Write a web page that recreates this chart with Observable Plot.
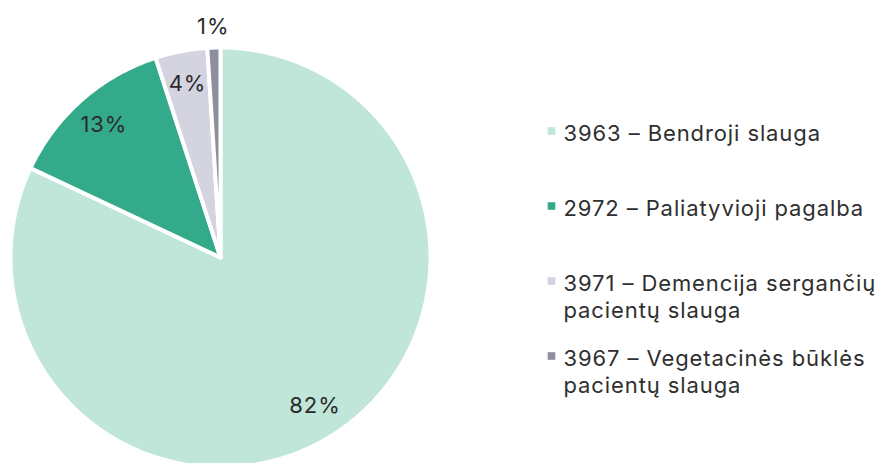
<!DOCTYPE html>
<html><head><meta charset="utf-8">
<script src="https://cdn.jsdelivr.net/npm/d3@7"></script>
<script src="https://cdn.jsdelivr.net/npm/@observablehq/plot@0.6"></script>
<style>
body{margin:0;background:#fff;}
#chart svg{font-family:Inter,"Noto Sans",sans-serif;overflow:visible;}
#chart svg text{letter-spacing:0.9px;}
</style>
</head><body><div id="chart"></div>
<script>
// ---- data ----
const codes = ["3963", "2972", "3971", "3967"];
const names = ["Bendroji slauga", "Paliatyvioji pagalba", "Demencija sergančių\npacientų slauga", "Vegetacinės būklės\npacientų slauga"];
const shares = [82, 13, 4, 1];
const colors = ["#bfe6d9", "#33ab8b", "#d3d4df", "#8d909c"];

// ---- geometry from data ----
const total = d3.sum(shares);
let acc = 0;
const slices = shares.map((v, i) => {
  const a0 = acc / total * 2 * Math.PI; acc += v;
  const a1 = acc / total * 2 * Math.PI;
  return {key: codes[i], v, a0, a1};
});
const pts = [];
for (const s of slices) {
  pts.push({key: s.key, x: 0, y: 0});
  const n = Math.max(4, Math.ceil((s.a1 - s.a0) / 0.01));
  for (let k = 0; k <= n; k++) {
    const a = s.a0 + (s.a1 - s.a0) * k / n;
    pts.push({key: s.key, x: Math.sin(a), y: Math.cos(a)});
  }
}
const labels = slices.map(s => {
  const m = (s.a0 + s.a1) / 2, r = s.v < 2 ? 1.1 : 0.84;
  return {x: r * Math.sin(m), y: r * Math.cos(m), text: s.v + "%"};
});

const legendX = 563, legendFirst = 137, legendStep = 75, fs = 22, lh = 27;
const legendMarks = codes.flatMap((c, i) => [
  Plot.dot([c], {frameAnchor: "top-left", dx: 551, dy: legendFirst + i * legendStep - 6.5, symbol: "square", r: 4.3, fill: colors[i], stroke: "none"}),
  Plot.text([c + " – " + names[i]], {frameAnchor: "top-left", dx: legendX, dy: legendFirst + i * legendStep - 0.71 * fs, text: d => d, textAnchor: "start", lineAnchor: "top", lineHeight: lh / fs, fontSize: fs, fill: "#2f2f2f"})
]);

const chart = Plot.plot({
  width: 893, height: 463, margin: 0,
  x: {domain: [-1, 1], range: [10, 430], axis: null},
  y: {domain: [-1, 1], range: [467, 47], axis: null},
  color: {domain: codes, range: colors},
  marks: [
    Plot.line(pts, {x: "x", y: "y", z: "key", fill: "key", stroke: "white", strokeWidth: 4, strokeLinejoin: "round", curve: "linear-closed"}),
    Plot.text(labels, {x: "x", y: "y", text: "text", fontSize: 22, fill: "#2b2b2b"}),
    ...legendMarks
  ]
});
document.getElementById("chart").append(chart);
</script>
</body></html>
